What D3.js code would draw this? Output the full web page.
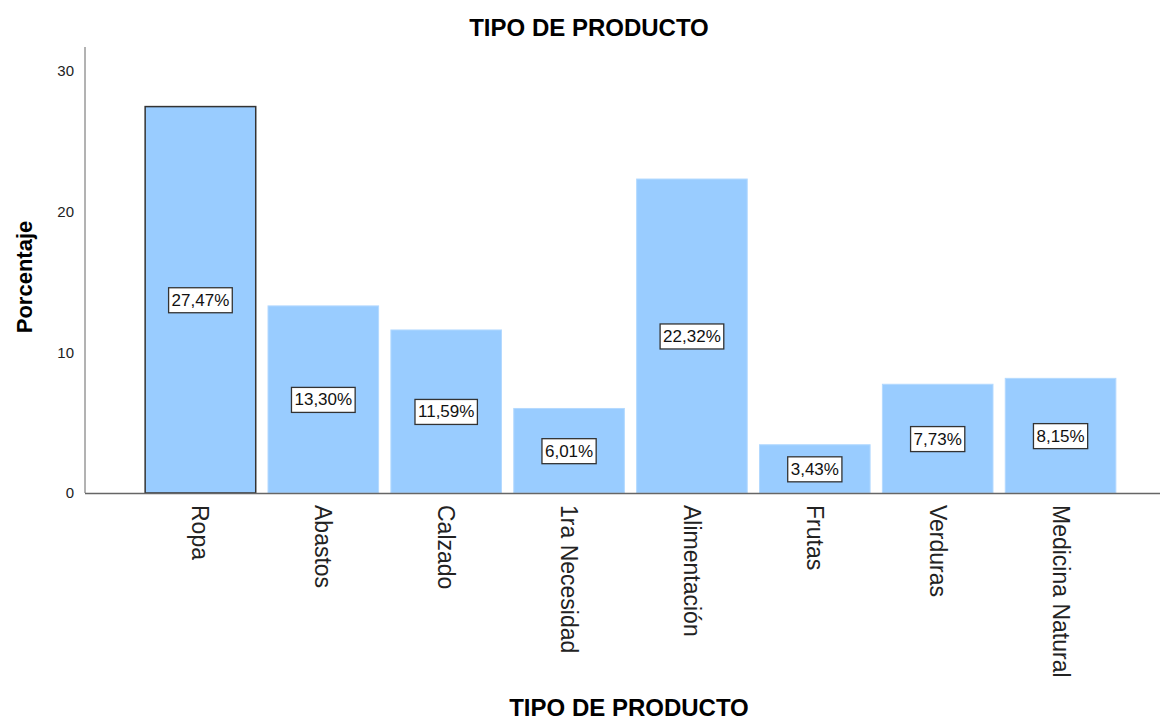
<!DOCTYPE html>
<html>
<head>
<meta charset="utf-8">
<script src="https://cdn.jsdelivr.net/npm/d3@7"></script>
<style>
  body { margin: 0; background: #fff; }
  text { font-family: "Liberation Sans", Arial, sans-serif; }
</style>
</head>
<body>
<div id="chart"></div>
<script>
const width = 1167;
const height = 723;

// data
const categories = ["Ropa", "Abastos", "Calzado", "1ra Necesidad", "Alimentación", "Frutas", "Verduras", "Medicina Natural"];
const percentages = [27.47, 13.30, 11.59, 6.01, 22.32, 3.43, 7.73, 8.15];
const yTicks = [0, 10, 20, 30];

const svg = d3.select("#chart")
    .append("svg")
    .attr("width", width)
    .attr("height", height);

const x = d3.scaleBand()
    .domain(categories)
    .range([139, 1122])
    .paddingInner(0.1)
    .paddingOuter(0.05);

const y = d3.scaleLinear()
    .domain([0, 30])
    .range([493, 71]);

// y axis ticks (labels only, SPSS style)
const yAxis = svg.append("g")
    .attr("transform", "translate(85,0)")
    .call(d3.axisLeft(y).tickValues(yTicks).tickSize(0).tickPadding(11));
yAxis.select(".domain").remove();
yAxis.selectAll("text")
    .attr("font-size", 15)
    .attr("fill", "#222")
    .style("font-family", "Liberation Sans, Arial, sans-serif");

svg.append("line")
    .attr("x1", 85).attr("x2", 85)
    .attr("y1", 47).attr("y2", 493)
    .attr("stroke", "#666").attr("stroke-width", 1);

// bars
svg.append("g")
    .selectAll("rect")
    .data(categories)
    .join("rect")
    .attr("x", d => x(d))
    .attr("y", (d, i) => y(percentages[i]))
    .attr("width", x.bandwidth())
    .attr("height", (d, i) => y(0) - y(percentages[i]))
    .attr("fill", "#99ccff")
    .attr("stroke", (d, i) => i === 0 ? "#333" : "#b3d9ff")
    .attr("stroke-width", (d, i) => i === 0 ? 1.5 : 1);

// x axis line
svg.append("line")
    .attr("x1", 85).attr("x2", 1160)
    .attr("y1", 493.5).attr("y2", 493.5)
    .attr("stroke", "#666").attr("stroke-width", 1.5);

// value labels
const fmt = v => v.toFixed(2).replace(".", ",") + "%";
const labels = svg.append("g")
    .selectAll("g")
    .data(categories)
    .join("g")
    .attr("transform", (d, i) => `translate(${x(d) + x.bandwidth() / 2},${y(percentages[i] / 2)})`);

labels.append("text")
    .attr("text-anchor", "middle")
    .attr("dy", "0.35em")
    .attr("font-size", 17)
    .attr("fill", "#111")
    .text((d, i) => fmt(percentages[i]));

labels.each(function() {
    const g = d3.select(this);
    const bb = g.select("text").node().getBBox();
    g.insert("rect", "text")
        .attr("x", bb.x - 3)
        .attr("y", bb.y - 3)
        .attr("width", bb.width + 6)
        .attr("height", bb.height + 6)
        .attr("fill", "#fff")
        .attr("stroke", "#333")
        .attr("stroke-width", 1.3);
});

// category labels (rotated)
svg.append("g")
    .selectAll("text")
    .data(categories)
    .join("text")
    .attr("transform", d => `translate(${x(d) + x.bandwidth() / 2},505) rotate(90)`)
    .attr("text-anchor", "start")
    .attr("dy", "0.35em")
    .attr("font-size", 23)
    .attr("fill", "#222")
    .text(d => d);

// titles
svg.append("text")
    .attr("x", 589).attr("y", 36)
    .attr("text-anchor", "middle")
    .attr("font-size", 24)
    .attr("font-weight", "bold")
    .text("TIPO DE PRODUCTO");

svg.append("text")
    .attr("x", 629).attr("y", 716)
    .attr("text-anchor", "middle")
    .attr("font-size", 24)
    .attr("font-weight", "bold")
    .text("TIPO DE PRODUCTO");

svg.append("text")
    .attr("transform", "translate(32,277) rotate(-90)")
    .attr("text-anchor", "middle")
    .attr("font-size", 22)
    .attr("font-weight", "bold")
    .text("Porcentaje");
</script>
</body>
</html>
